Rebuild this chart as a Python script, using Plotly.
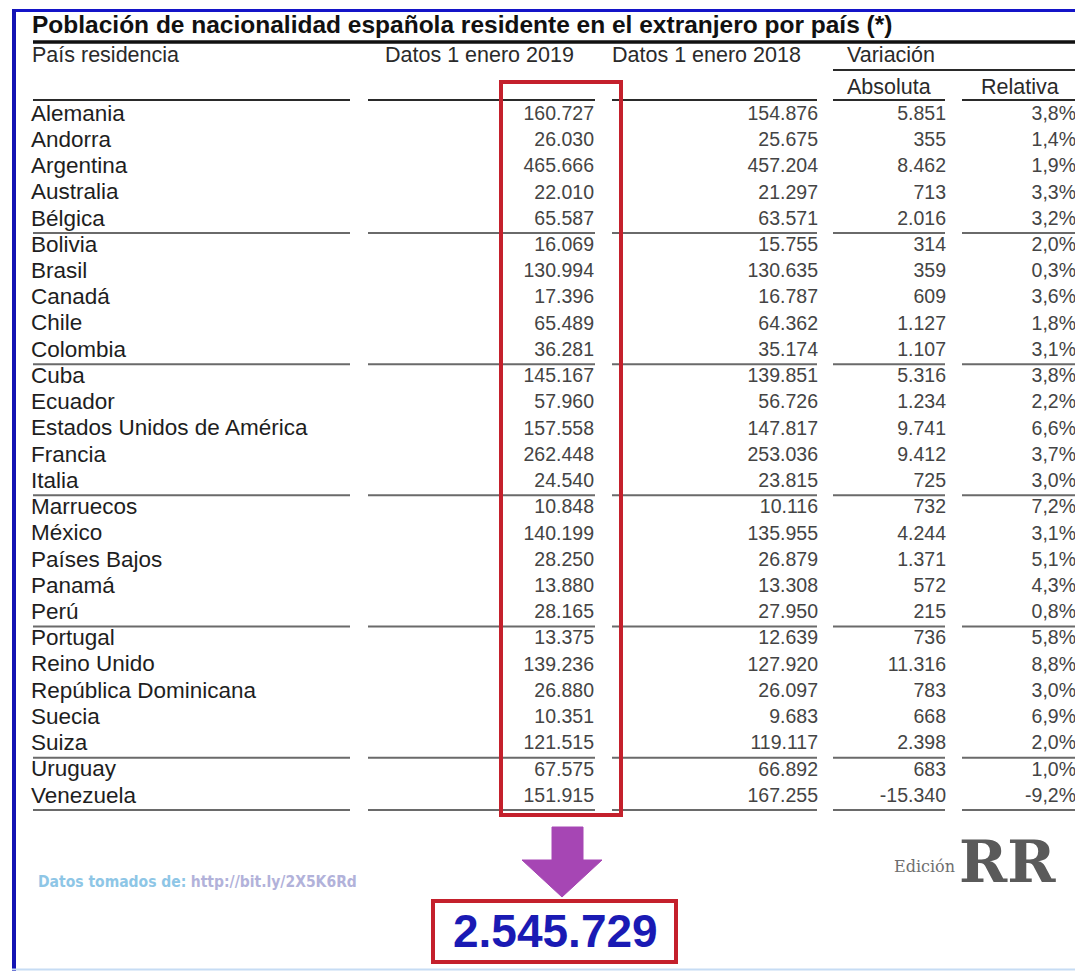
import plotly.graph_objects as go

# ---------------- data ----------------
countries = ["Alemania", "Andorra", "Argentina", "Australia", "Bélgica",
             "Bolivia", "Brasil", "Canadá", "Chile", "Colombia",
             "Cuba", "Ecuador", "Estados Unidos de América", "Francia", "Italia",
             "Marruecos", "México", "Países Bajos", "Panamá", "Perú",
             "Portugal", "Reino Unido", "República Dominicana", "Suecia", "Suiza",
             "Uruguay", "Venezuela"]
datos_2019 = [160727, 26030, 465666, 22010, 65587,
              16069, 130994, 17396, 65489, 36281,
              145167, 57960, 157558, 262448, 24540,
              10848, 140199, 28250, 13880, 28165,
              13375, 139236, 26880, 10351, 121515,
              67575, 151915]
datos_2018 = [154876, 25675, 457204, 21297, 63571,
              15755, 130635, 16787, 64362, 35174,
              139851, 56726, 147817, 253036, 23815,
              10116, 135955, 26879, 13308, 27950,
              12639, 127920, 26097, 9683, 119117,
              66892, 167255]
var_absoluta = [5851, 355, 8462, 713, 2016,
                314, 359, 609, 1127, 1107,
                5316, 1234, 9741, 9412, 725,
                732, 4244, 1371, 572, 215,
                736, 11316, 783, 668, 2398,
                683, -15340]
var_relativa = [3.8, 1.4, 1.9, 3.3, 3.2,
                2.0, 0.3, 3.6, 1.8, 3.1,
                3.8, 2.2, 6.6, 3.7, 3.0,
                7.2, 3.1, 5.1, 4.3, 0.8,
                5.8, 8.8, 3.0, 6.9, 2.0,
                1.0, -9.2]
group_ends = [4, 9, 14, 19, 24, 26]
total_2019 = 2545729

title = "Población de nacionalidad española residente en el extranjero por país (*)"
headers = ["País residencia", "Datos 1 enero 2019", "Datos 1 enero 2018", "Variación", "Absoluta", "Relativa"]
fuente_a = "Datos tomados de:"
fuente_b = "http://bit.ly/2X5K6Rd"

# ---------------- helpers ----------------
W, H = 1075, 971
ROW0, ROWH = 115.0, 26.23


def ry(p):
    """pixel y -> row units"""
    return (p - ROW0) / ROWH


def num(n):
    return f"{n:,}".replace(",", ".")


def pct(v):
    return f"{v:.1f}".replace(".", ",") + "%"


rows = list(range(len(countries)))
FONT = "Liberation Sans, Arial, sans-serif"
NAME_C = "#1e1e1e"
NUM_C = "#444444"

fig = go.Figure()

# country names
fig.add_trace(go.Scatter(x=[31] * len(rows), y=rows, mode="text", text=countries,
                         textposition="middle right",
                         textfont=dict(family=FONT, size=22.5, color=NAME_C),
                         hoverinfo="skip", showlegend=False))
# numeric columns (right aligned)
for xr, vals in [(594, [num(v) for v in datos_2019]),
                 (818, [num(v) for v in datos_2018]),
                 (946, [num(v) for v in var_absoluta]),
                 (1076, [pct(v) for v in var_relativa])]:
    fig.add_trace(go.Scatter(x=[xr] * len(rows), y=rows, mode="text", text=vals,
                             textposition="middle left",
                             textfont=dict(family=FONT, size=19.5, color=NUM_C),
                             hoverinfo="skip", showlegend=False))

shapes = []
segs = [(33, 350), (368, 595), (612, 817), (833, 945), (962, 1080)]

# group separator lines
for g in group_ends:
    for x0, x1 in segs:
        shapes.append(dict(type="line", xref="x", yref="y", x0=x0, x1=x1,
                           y0=g + 0.5, y1=g + 0.5,
                           line=dict(color="#6a6a6a", width=2)))
# header underline
for x0, x1 in segs:
    shapes.append(dict(type="line", xref="x", yref="y", x0=x0, x1=x1,
                       y0=ry(100), y1=ry(100), line=dict(color="#2a2a2a", width=2)))
# Variación line
shapes.append(dict(type="line", xref="x", yref="y", x0=833, x1=1080,
                   y0=ry(70), y1=ry(70), line=dict(color="#2a2a2a", width=2)))
# title underline
shapes.append(dict(type="line", xref="x", yref="y", x0=33, x1=1080,
                   y0=ry(42), y1=ry(42), line=dict(color="#111111", width=3.5)))
# blue frame
shapes.append(dict(type="line", xref="x", yref="y", x0=12, x1=1080,
                   y0=ry(10.5), y1=ry(10.5), line=dict(color="#1414c8", width=3)))
shapes.append(dict(type="line", xref="x", yref="y", x0=14, x1=14,
                   y0=ry(9), y1=ry(975), line=dict(color="#1414b4", width=4)))
shapes.append(dict(type="line", xref="x", yref="y", x0=12, x1=1080,
                   y0=ry(969.5), y1=ry(969.5), line=dict(color="#c6dcf4", width=2)))
# red highlight box around 2019 column
shapes.append(dict(type="rect", xref="x", yref="y", x0=501, x1=621,
                   y0=ry(82), y1=ry(815), line=dict(color="#c4202c", width=4)))
# purple arrow
ax = 562
arrow_path = (f"M {ax-10},{ry(827)} L {ax+21},{ry(827)} L {ax+21},{ry(860)} "
              f"L {ax+40},{ry(860)} L {ax},{ry(897)} L {ax-40},{ry(860)} "
              f"L {ax-10},{ry(860)} Z")
shapes.append(dict(type="path", xref="x", yref="y", path=arrow_path,
                   fillcolor="#a646b4", line=dict(color="#a646b4", width=1)))
# total box
shapes.append(dict(type="rect", xref="x", yref="y", x0=433, x1=676,
                   y0=ry(901), y1=ry(962), fillcolor="white",
                   line=dict(color="#c4202c", width=4)))

annotations = []


def ann(text, x, py, size, color, xanchor="left", bold=False, family=FONT):
    annotations.append(dict(text=f"<b>{text}</b>" if bold else text, x=x, y=ry(py),
                            xref="x", yref="y", xanchor=xanchor, yanchor="middle",
                            showarrow=False,
                            font=dict(family=family, size=size, color=color)))


ann(title, 30, 24, 24.5, "#111111", bold=True)
ann(headers[0], 30, 55, 21.5, "#2a2a2a")
ann(headers[1], 383, 55, 21.5, "#2a2a2a")
ann(headers[2], 610, 55, 21.5, "#2a2a2a")
ann(headers[3], 845, 55, 21.5, "#2a2a2a")
ann(headers[4], 845, 87, 21.5, "#2a2a2a")
ann(headers[5], 979, 87, 21.5, "#2a2a2a")

ann(num(total_2019), 555, 931, 46, "#1a1ab4", xanchor="center", bold=True)

annotations.append(dict(
    text=(f"<span style='color:#8ec6e6'><b>{fuente_a}</b></span> "
          f"<span style='color:#b2b2da'><b>{fuente_b}</b></span>"),
    x=36, y=ry(882), xref="x", yref="y", xanchor="left", yanchor="middle",
    showarrow=False, font=dict(family="DejaVu Sans Condensed, sans-serif", size=15.5)))

ann("Edición", 892, 866, 16, "#6e6e6e", family="DejaVu Serif, serif")
ann("RR", 1007, 862, 58, "#5a5a5a", xanchor="center", bold=True,
    family="DejaVu Serif, serif")

fig.update_layout(
    width=W, height=H,
    margin=dict(l=0, r=0, t=0, b=0),
    paper_bgcolor="white", plot_bgcolor="white",
    xaxis=dict(range=[0, W], visible=False, fixedrange=True),
    yaxis=dict(range=[ry(H), ry(0)], visible=False, fixedrange=True),
    shapes=shapes, annotations=annotations,
    showlegend=False,
)

fig.write_html("out.html", config={"displayModeBar": False},
               post_script="document.body.style.margin='0';document.body.style.overflow='hidden';")
